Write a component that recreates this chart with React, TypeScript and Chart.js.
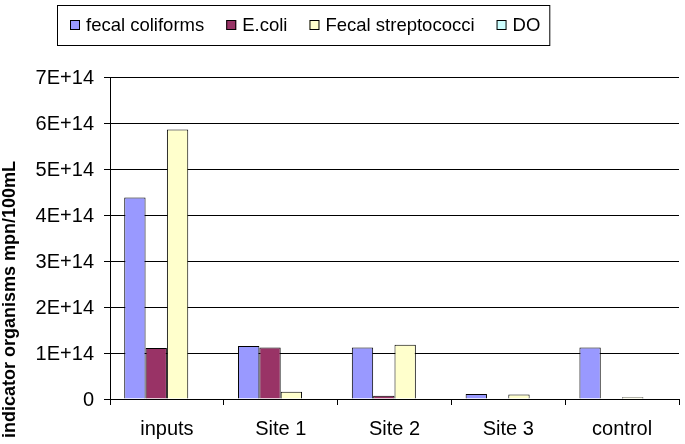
import React, { useEffect, useRef } from 'react';
import { Chart, registerables } from 'chart.js';

Chart.register(...registerables);

const categories = ['inputs', 'Site 1', 'Site 2', 'Site 3', 'control'];
const fecalColiforms = [4.38e14, 1.15e14, 1.12e14, 0.11e14, 1.12e14];
const eColi = [1.11e14, 1.12e14, 0.07e14, 0, 0];
const fecalStreptococci = [5.86e14, 0.16e14, 1.18e14, 0.1e14, 0.04e14];
const dissolvedOxygen = [0, 0, 0, 0, 0];
const seriesNames = ['fecal coliforms', 'E.coli', 'Fecal streptococci', 'DO'];
const seriesColors = ['#9999FF', '#993366', '#FFFFCC', '#CCFFFF'];
const yMax = 7e14;
const yStep = 1e14;
const yTitle = 'indicator organisms mpn/100mL';

const FONT = "'Liberation Sans', Arial, Helvetica, sans-serif";

Chart.defaults.font.family = FONT;
Chart.defaults.font.size = 16;
Chart.defaults.color = '#000';

const formatY = (v: number) => (v === 0 ? '0' : `${Math.round(v / yStep)}E+14`);

const boxLegend = {
  id: 'boxLegend',
  afterDraw(chart: any) {
    const ctx = chart.ctx;
    ctx.save();
    ctx.font = `18.5px ${FONT}`;
    ctx.textBaseline = 'middle';
    ctx.textAlign = 'left';
    const left = 57;
    const top = 5;
    const h = 40;
    const padL = 13;
    const padR = 9;
    const box = 10;
    const gapText = 6;
    const gapItem = 22;
    const cy = top + h / 2;
    let x = left + padL;
    const ds = chart.data.datasets;
    ds.forEach((d: any, i: number) => {
      ctx.fillStyle = d.backgroundColor;
      ctx.fillRect(x, cy - box / 2, box, box);
      ctx.strokeStyle = '#000';
      ctx.lineWidth = 1;
      ctx.strokeRect(x + 0.5, cy - box / 2 + 0.5, box - 1, box - 1);
      x += box + gapText;
      ctx.fillStyle = '#000';
      ctx.fillText(d.label, x, cy + 0.5);
      x += ctx.measureText(d.label).width;
      if (i < ds.length - 1) x += gapItem;
    });
    const right = x + padR;
    ctx.strokeStyle = '#000';
    ctx.lineWidth = 1;
    ctx.strokeRect(left + 0.5, top + 0.5, right - left, h);
    ctx.restore();
  },
};

const yLabelsAndTitle = {
  id: 'yLabelsAndTitle',
  afterDraw(chart: any) {
    const ctx = chart.ctx;
    const scale = chart.scales.y;
    ctx.save();
    ctx.fillStyle = '#000';
    ctx.font = `20px ${FONT}`;
    ctx.textAlign = 'right';
    ctx.textBaseline = 'middle';
    const xRight = scale.right - 16;
    scale.ticks.forEach((t: any) => {
      const y = scale.getPixelForValue(t.value);
      ctx.fillText(formatY(Number(t.value)), xRight, y + 1);
    });
    ctx.font = `bold 18px ${FONT}`;
    ctx.textAlign = 'center';
    ctx.textBaseline = 'alphabetic';
    ctx.translate(14.5, 299.5);
    ctx.rotate(-Math.PI / 2);
    ctx.fillText(yTitle, 0, 0);
    ctx.restore();
  },
};

export default function App() {
  const ref = useRef<HTMLCanvasElement | null>(null);
  useEffect(() => {
    document.body.style.margin = '0';
    const canvas = ref.current;
    if (!canvas) return;
    const data = [fecalColiforms, eColi, fecalStreptococci, dissolvedOxygen];
    const chart = new Chart(canvas, {
      type: 'bar',
      data: {
        labels: categories,
        datasets: data.map((values, i) => ({
          label: seriesNames[i],
          data: values,
          backgroundColor: seriesColors[i],
          borderColor: '#000',
          borderWidth: 1,
          barPercentage: 1,
          categoryPercentage: 0.75,
        })),
      },
      options: {
        responsive: false,
        maintainAspectRatio: false,
        animation: false,
        events: [],
        layout: { padding: { top: 77, right: 6, left: 0, bottom: 0 } },
        plugins: {
          legend: { display: false },
          tooltip: { enabled: false },
          title: { display: false },
        },
        scales: {
          x: {
            offset: true,
            grid: {
              display: true,
              offset: true,
              drawOnChartArea: false,
              drawTicks: true,
              tickLength: 6,
              color: '#000',
              lineWidth: 1,
            },
            border: { display: true, color: '#000', width: 1 },
            ticks: {
              color: '#000',
              font: { size: 20 },
              padding: 12,
              maxRotation: 0,
            },
            afterFit: (s: any) => {
              s.height = 45;
            },
          },
          y: {
            min: 0,
            max: yMax,
            ticks: {
              stepSize: yStep,
              display: false,
            },
            grid: {
              color: '#000',
              lineWidth: 1,
              tickLength: 6,
              drawTicks: true,
            },
            border: { display: true, color: '#000', width: 1 },
            afterFit: (s: any) => {
              s.width = 110;
            },
          },
        },
      },
      plugins: [boxLegend, yLabelsAndTitle],
    });
    return () => chart.destroy();
  }, []);
  return (
    <div style={{ width: 685, height: 444, background: '#fff' }}>
      <canvas ref={ref} width={685} height={444} style={{ display: 'block' }} />
    </div>
  );
}
